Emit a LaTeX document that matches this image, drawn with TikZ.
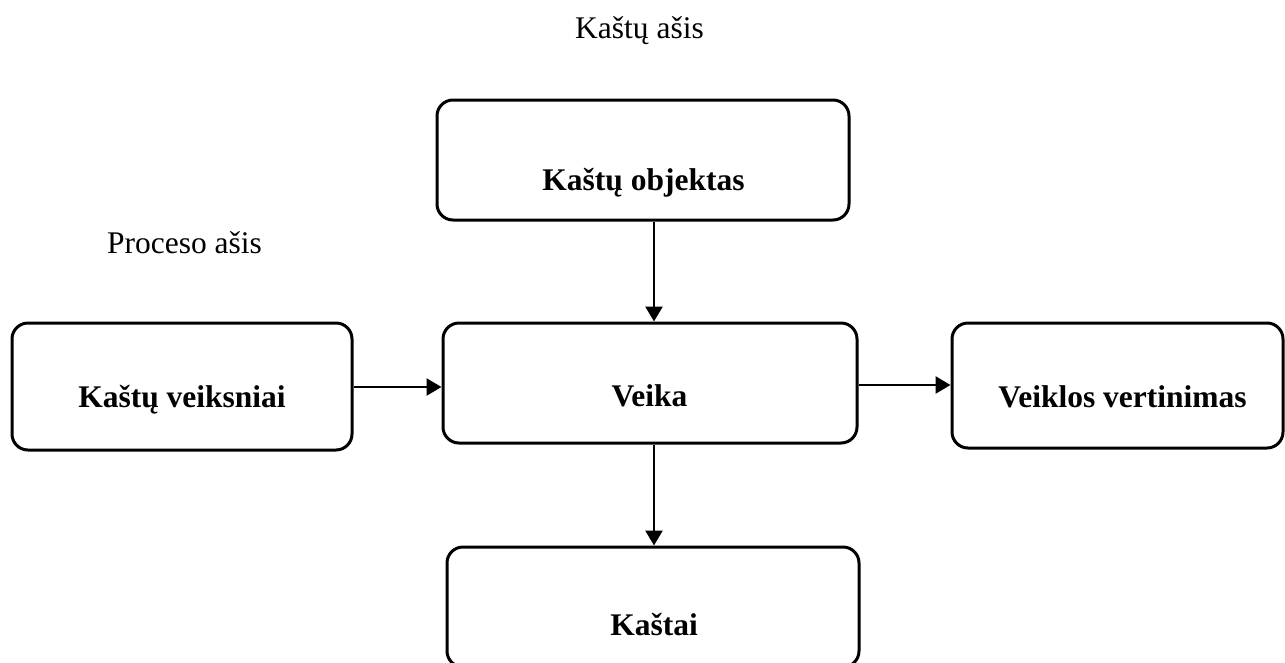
\documentclass[tikz,border=0pt]{standalone}
\usepackage{fontspec}
\setmainfont{Liberation Serif}
\usetikzlibrary{arrows.meta}
\begin{document}
\begin{tikzpicture}[x=1pt, y=-1pt,
  box/.style={draw, line width=3pt, rounded corners=16pt, inner sep=0pt},
  lbl/.style={anchor=base, inner sep=0pt, font=\fontsize{31.5}{36}\selectfont\bfseries},
  axis/.style={anchor=base, inner sep=0pt, font=\fontsize{31.5}{36}\selectfont},
  flow/.style={line width=2.6pt, -{Triangle[length=15pt, width=17pt]}}]
\useasboundingbox (0,0) rectangle (1285,662);
\begin{scope}
\clip (0,0) rectangle (1285,662);
% boxes
\node[box, minimum width=412pt, minimum height=120pt] (obj) at (643,160) {};
\node[box, minimum width=340pt, minimum height=127pt] (drv) at (182,386.5) {};
\node[box, minimum width=414pt, minimum height=120pt] (act) at (650,383) {};
\node[box, minimum width=331pt, minimum height=125pt] (perf) at (1117.5,385.5) {};
\node[box, minimum width=412pt, minimum height=120pt] (cost) at (653,607) {};
\end{scope}
% box texts
\node[lbl] (tobj) at (643.5,190) {Kaštų objektas};
\node[lbl] (tdrv) at (182,407) {Kaštų veiksniai};
\node[lbl] (tact) at (649.5,406) {Veika};
\node[lbl] (tperf) at (1122.5,407) {Veiklos vertinimas};
\node[lbl] (tcost) at (654,635) {Kaštai};
% axis labels
\node[axis] (costaxis) at (639.5,38) {Kaštų ašis};
\node[axis] (procaxis) at (184.5,253) {Proceso ašis};
% connectors
\draw[flow] (obj.south -| 654,0) -- (act.north -| 654,0);
\draw[flow] (act.south -| 654,0) -- (cost.north -| 654,0);
\draw[flow] (drv.east |- 0,387) -- (act.west |- 0,387);
\draw[flow] (act.east |- 0,385) -- (perf.west |- 0,385);
\end{tikzpicture}
\end{document}
